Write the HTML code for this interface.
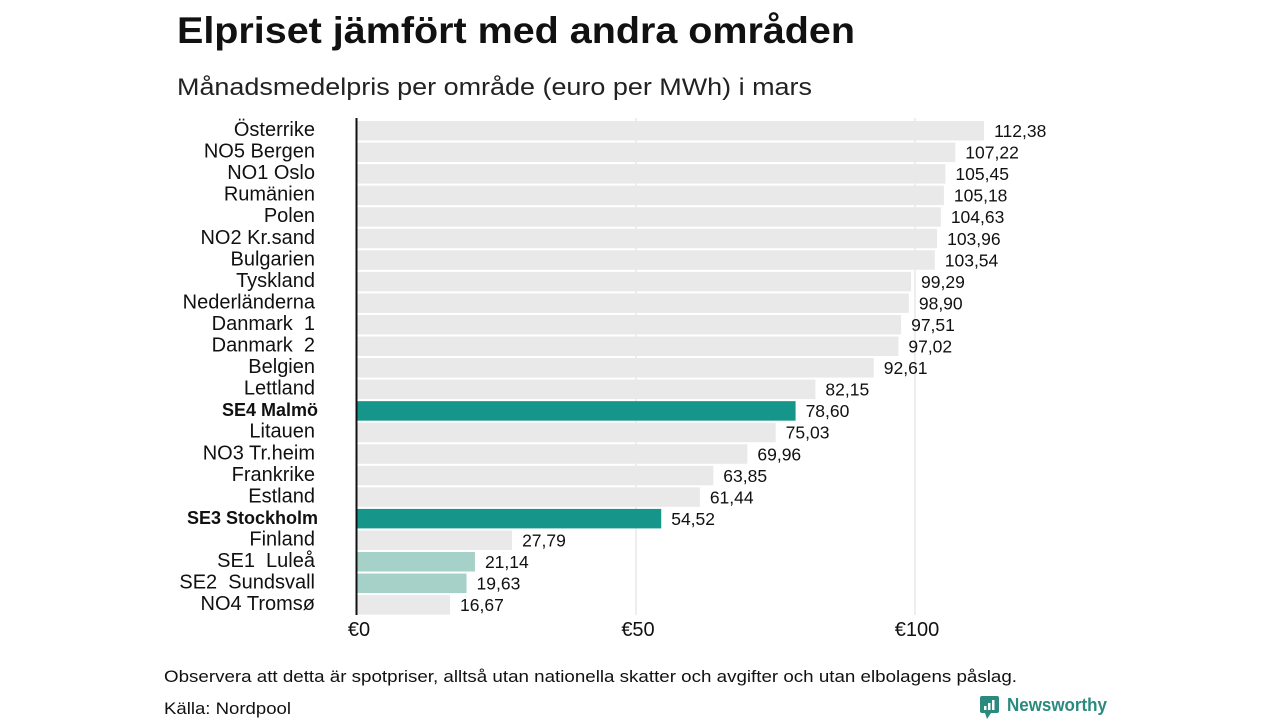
<!DOCTYPE html>
<html><head><meta charset="utf-8"><style>
body{margin:0;width:1280px;height:720px;background:#fff;overflow:hidden;font-family:"Liberation Sans","DejaVu Sans",sans-serif}
svg{position:absolute;left:0;top:0}
</style></head><body>
<svg id="c" width="1280" height="720">
<text x="177" y="43" font-size="37" font-weight="bold" fill="#111" textLength="678" lengthAdjust="spacingAndGlyphs">Elpriset jämfört med andra områden</text>
<text x="177" y="95" font-size="24" fill="#222" textLength="635" lengthAdjust="spacingAndGlyphs">Månadsmedelpris per område (euro per MWh) i mars</text>
<text x="164" y="682" font-size="17" fill="#111" textLength="853" lengthAdjust="spacingAndGlyphs">Observera att detta är spotpriser, alltså utan nationella skatter och avgifter och utan elbolagens påslag.</text>
<text x="164" y="714" font-size="17" fill="#111" textLength="127" lengthAdjust="spacingAndGlyphs">Källa: Nordpool</text>
<g>
<rect x="980" y="696" width="19" height="17" rx="2" fill="#2a8a7e"/>
<polygon points="985,713 991,713 987,719" fill="#2a8a7e"/>
<rect x="984" y="706" width="2.5" height="4" fill="#fff"/><rect x="988" y="703" width="2.5" height="7" fill="#fff"/><rect x="992" y="700" width="2.5" height="10" fill="#fff"/>
<text x="1007" y="711" font-size="18" font-weight="bold" fill="#2a8a7e" textLength="100" lengthAdjust="spacingAndGlyphs">Newsworthy</text>
</g>
<g id="plot"></g>
</svg>
<script>
const categories=["Österrike","NO5 Bergen","NO1 Oslo","Rumänien","Polen","NO2 Kr.sand","Bulgarien","Tyskland","Nederländerna","Danmark  1","Danmark  2","Belgien","Lettland","SE4 Malmö","Litauen","NO3 Tr.heim","Frankrike","Estland","SE3 Stockholm","Finland","SE1  Luleå","SE2  Sundsvall","NO4 Tromsø"];
const values=[112.38,107.22,105.45,105.18,104.63,103.96,103.54,99.29,98.90,97.51,97.02,92.61,82.15,78.60,75.03,69.96,63.85,61.44,54.52,27.79,21.14,19.63,16.67];
const highlight=["","","","","","","","","","","","","","strong","","","","","strong","","light","light",""];
const ticks=[0,50,100];
const tickLabels=["€0","€50","€100"];
const NS="http://www.w3.org/2000/svg";
const g=document.getElementById('plot');
const x=v=>357+v*5.58;
const y=i=>121+i*21.55;
function mk(t,a){const e=document.createElementNS(NS,t);for(const k in a)e.setAttribute(k,a[k]);g.appendChild(e);return e;}
ticks.forEach((t,i)=>{
 if(t>0){const l=mk('line',{x1:x(t),x2:x(t),y1:118,y2:615,stroke:'#ddd','stroke-width':1});
 
 }
 const tx=mk('text',{x:x(t)+2,y:636,'font-size':20,'text-anchor':'middle',fill:'#111'});tx.textContent=tickLabels[i];
 
 
});
categories.forEach((c,i)=>{
 const h=highlight[i];
 const fill=h==='strong'?'#16968a':h==='light'?'#a6d1c9':'#e9e9e9';
 const r=mk('rect',{x:357,y:y(i),width:x(values[i])-357,height:19.5,fill:fill});
 
 
 const lb=mk('text',{x:315,y:y(i)+15,'font-size':h==='strong'?18:20,'text-anchor':'end',fill:'#111'});
 if(h==='strong'){lb.setAttribute('font-weight','bold');lb.setAttribute('x',318);}
 lb.style.whiteSpace='pre';
 lb.textContent=c;
 
 
 const vl=mk('text',{x:x(values[i])+10,y:y(i)+16,'font-size':17.5,fill:'#111'});
 vl.textContent=values[i].toFixed(2).replace('.',',');
 
 
});
const ax=mk('line',{x1:356.5,x2:356.5,y1:118,y2:615,stroke:'#111','stroke-width':2});


</script>
</body></html>
